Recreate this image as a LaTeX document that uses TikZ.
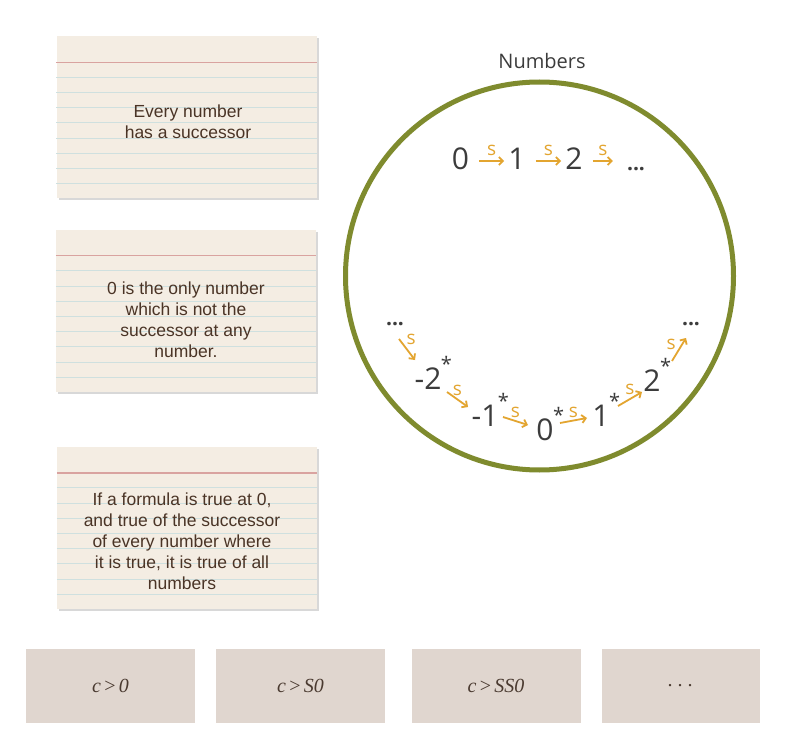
\documentclass[tikz,border=0pt]{standalone}
\usepackage{fontspec}
\newfontfamily\osans{Open Sans}
\newfontfamily\arial{Liberation Sans}
\newfontfamily\tserif{Liberation Serif}
\usetikzlibrary{arrows.meta,shadows}
\definecolor{cardfill}{HTML}{F4EDE3}
\definecolor{redrule}{HTML}{D9A3A0}
\definecolor{bluerule}{HTML}{CFE0DF}
\definecolor{cardtextc}{HTML}{4A3426}
\definecolor{shadowc}{HTML}{D8D8D8}
\definecolor{olivec}{HTML}{7F8B2E}
\definecolor{numc}{HTML}{3C3C3C}
\definecolor{arrowc}{HTML}{E3A530}
\definecolor{boxfill}{HTML}{E0D6CF}
\definecolor{boxtext}{HTML}{4A3A30}
\newcommand\stmark{\rlap{\hspace{-0.5pt}\raisebox{18pt}{\fontsize{20}{20}\selectfont *}}}
\newcommand\gtsym{\,{\upshape>}\,}
\begin{document}
\begin{tikzpicture}[x=1pt,y=-1pt,
  card/.style={rectangle, fill=cardfill, minimum width=260pt, minimum height=162pt, inner sep=0,
    drop shadow={shadow xshift=2pt, shadow yshift=-2pt, fill=shadowc, opacity=1}},
  redline/.style={draw=redrule, line width=1.4pt},
  blueline/.style={draw=bluerule, line width=0.9pt},
  cardtext/.style={font=\arial\fontsize{17.5}{21}\selectfont, align=center, text=cardtextc, inner sep=0},
  num/.style={font=\osans\fontsize{30}{30}\selectfont, text=numc, inner sep=0},
  dots/.style={font=\osans\bfseries\fontsize{21}{21}\selectfont, text=numc, inner sep=0},
  sarrow/.style={draw=arrowc, line width=1.8pt, -{Straight Barb[length=4pt,width=8pt]}},
  slabel/.style={font=\osans\fontsize{19}{19}\selectfont, text=arrowc, inner sep=0},
  mathbox/.style={rectangle, fill=boxfill, minimum width=169pt, minimum height=74pt, inner sep=0,
    text=boxtext, font=\tserif\itshape\fontsize{20}{20}\selectfont}
]
\useasboundingbox (0,0) rectangle (790,746);
\fill[white] (0,0) rectangle (790,746);

% cards
\node[card] (c1) at (186.5,117.5) {};
\node[card] (c2) at (186,311) {};
\node[card] (c3) at (187,528) {};
\foreach \c in {c1,c2,c3}{
  \draw[redline] ([yshift=-26pt]\c.north west) -- ([yshift=-26pt]\c.north east);
  \foreach \i in {0,...,7}
    \draw[blueline] ([yshift={-41pt-15.2pt*\i}]\c.north west) -- ([yshift={-41pt-15.2pt*\i}]\c.north east);
}
\node[cardtext] (t1) at (188,122) {Every number\\has a successor};
\node[cardtext] (t2) at (186,320) {0 is the only number\\which is not the\\successor at any\\number.};
\node[cardtext] (t3) at (182,541) {If a formula is true at 0,\\and true of the successor\\of every number where\\it is true, it is true of all\\numbers};

% circle
\node[circle, draw=olivec, line width=5pt, minimum size=388pt, inner sep=0] (numbers) at (539.5,276) {};
\node[font=\osans\fontsize{20}{20}\selectfont, text=numc, inner sep=0] (lbl) at (542,61) {Numbers};

% top row
\node[num] (a0) at (460.5,159) {0};
\node[num] (a1) at (517,159) {1};
\node[num] (a2) at (574,159) {2};
\node[dots] (a3) at (636,169) {...};
\draw[sarrow] ([shift={(10,2)}]a0.east) -- node[slabel, above=4pt]{s} ([shift={(-4,2)}]a1.west);
\draw[sarrow] ([shift={(10,2)}]a1.east) -- node[slabel, above=4pt]{s} ([shift={(-4,2)}]a2.west);
\draw[sarrow] ([shift={(10,2)}]a2.east) -- node[slabel, above=4pt]{s} ([shift={(-14,-8)}]a3.west);

% bottom chain
\node[dots] (L) at (395,324) {...};
\node[num] (m2) at (428,373) {-2\stmark};
\node[num] (m1) at (485,410) {-1\stmark};
\node[num] (z0) at (545,424) {0\stmark};
\node[num] (p1) at (601,410) {1\stmark};
\node[num] (p2) at (652,375) {2\stmark};
\node[dots] (R) at (691,324) {...};
\draw[sarrow] ([shift={(4,15)}]L.center) -- node[slabel, pos=0.35, anchor=south west, xshift=1pt, yshift=1pt]{s} ([shift={(-13,-13)}]m2.center);
\draw[sarrow] ([shift={(19,19)}]m2.center) -- node[slabel, above=3pt]{s} ([shift={(-17,-3)}]m1.center);
\draw[sarrow] ([shift={(18,7)}]m1.center) -- node[slabel, above=2pt]{s} ([shift={(-17,1)}]z0.center);
\draw[sarrow] ([shift={(15,-1)}]z0.center) -- node[slabel, above=2pt]{s} ([shift={(-14,8)}]p1.center);
\draw[sarrow] ([shift={(17,-4)}]p1.center) -- node[slabel, above=3pt]{s} ([shift={(-10,17)}]p2.center);
\draw[sarrow] ([shift={(20,-14)}]p2.center) -- node[slabel, pos=0.4, anchor=south east, xshift=-1pt, yshift=1pt]{s} ([shift={(-5,14)}]R.center);

% bottom boxes
\node[mathbox] (b1) at (110.5,686) {c\gtsym0};
\node[mathbox] (b2) at (300.5,686) {c\gtsym S0};
\node[mathbox] (b3) at (496,686) {c\gtsym SS0};
\node[mathbox, minimum width=158pt] (b4) at (680.5,686) {.\hspace{5pt}.\hspace{5pt}.};
\end{tikzpicture}
\end{document}
